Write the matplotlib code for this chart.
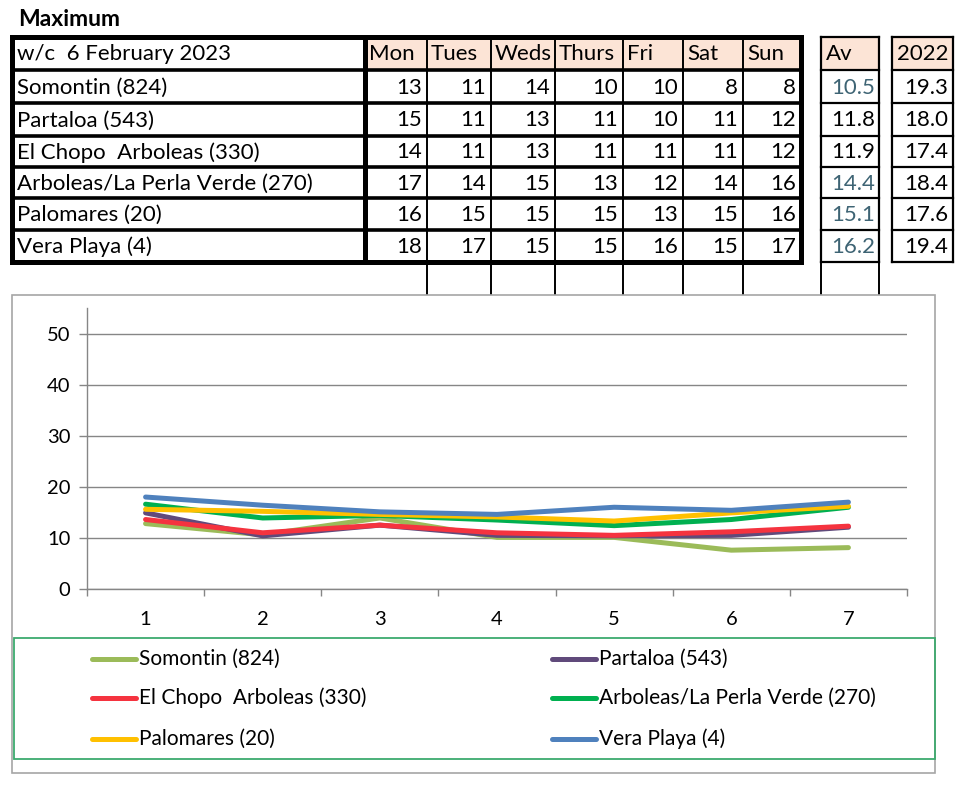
import matplotlib; matplotlib.use("agg")
import matplotlib.pyplot as plt
from matplotlib.patches import Rectangle
from matplotlib.lines import Line2D

# table data
title = "Maximum"
week = "w/c  6 February 2023"
days = ["Mon", "Tues", "Weds", "Thurs", "Fri", "Sat", "Sun"]
places = ["Somontin (824)", "Partaloa (543)", "El Chopo  Arboleas (330)",
          "Arboleas/La Perla Verde (270)", "Palomares (20)", "Vera Playa (4)"]
daily = [[13, 11, 14, 10, 10, 8, 8],
         [15, 11, 13, 11, 10, 11, 12],
         [14, 11, 13, 11, 11, 11, 12],
         [17, 14, 15, 13, 12, 14, 16],
         [16, 15, 15, 15, 13, 15, 16],
         [18, 17, 15, 15, 16, 15, 17]]
av = [10.5, 11.8, 11.9, 14.4, 15.1, 16.2]
av_teal = [True, False, False, True, True, True]
y2022 = [19.3, 18.0, 17.4, 18.4, 17.6, 19.4]

# chart data
xs = [1, 2, 3, 4, 5, 6, 7]
series = {
    "Somontin (824)": [12.8, 10.6, 13.9, 10.1, 10.1, 7.6, 8.1],
    "Partaloa (543)": [14.9, 10.4, 12.5, 10.5, 10.4, 10.5, 12.1],
    "El Chopo  Arboleas (330)": [13.6, 11.0, 12.5, 11.0, 10.5, 11.2, 12.3],
    "Arboleas/La Perla Verde (270)": [16.6, 13.9, 14.4, 13.5, 12.4, 13.6, 16.0],
    "Palomares (20)": [15.6, 15.2, 14.6, 14.1, 13.3, 14.9, 16.2],
    "Vera Playa (4)": [18.0, 16.4, 15.1, 14.6, 16.0, 15.4, 17.0],
}
colors = ["#9BBB59", "#604A7B", "#F5333F", "#00B050", "#FFC000", "#4F81BD"]

FONT = ["Lato", "DejaVu Sans"]
PEACH = "#FCE4D6"
TEAL = "#3E6474"

fig = plt.figure(figsize=(9.63, 8), dpi=100)
ov = fig.add_axes([0, 0, 1, 1])
ov.set_xlim(0, 963); ov.set_ylim(800, 0); ov.axis("off")

# ---- table ----
rows_y = [37, 70, 103, 136, 167, 198, 230, 262]
cols_x = [12, 365, 427, 491, 555, 623, 683, 743, 801]
av_x = (821, 879)
yr_x = (892, 953)
fs = 16

ov.text(18, 20, title, fontsize=16.5, weight="bold", family=FONT, va="center")

# header fills
for i in range(1, 8):
    ov.add_patch(Rectangle((cols_x[i], rows_y[0]), cols_x[i+1]-cols_x[i], rows_y[1]-rows_y[0],
                           facecolor=PEACH, edgecolor="none", zorder=1))
for x0, x1 in (av_x, yr_x):
    ov.add_patch(Rectangle((x0, rows_y[0]), x1-x0, rows_y[1]-rows_y[0],
                           facecolor=PEACH, edgecolor="none", zorder=1))

# main table lines
for k, y in enumerate(rows_y):
    lw = 3.6 if k in (0, len(rows_y)-1) else 2.6
    ov.plot([cols_x[0], cols_x[-1]], [y, y], color="black", lw=lw, zorder=3, solid_capstyle="projecting")
for k, x in enumerate(cols_x):
    lw = 3.6 if k in (0, 1, len(cols_x)-1) else 1.4
    ov.plot([x, x], [rows_y[0], rows_y[-1]], color="black", lw=lw, zorder=3, solid_capstyle="projecting")
for x in cols_x[2:-1]:
    ov.plot([x, x], [rows_y[-1], 295], color="black", lw=1.4, zorder=2)
for x0, x1 in (av_x, yr_x):
    for y in rows_y:
        ov.plot([x0, x1], [y, y], color="black", lw=1.6, zorder=3, solid_capstyle="projecting")
    for x in (x0, x1):
        ov.plot([x, x], [rows_y[0], rows_y[-1]], color="black", lw=1.6, zorder=3)
for x in av_x:
    ov.plot([x, x], [rows_y[-1], 295], color="black", lw=1.4, zorder=2)

# table text
def cy(r):
    return (rows_y[r] + rows_y[r+1]) / 2 + 1

ov.text(17, cy(0), week, fontsize=fs, family=FONT, va="center")
for i, d in enumerate(days):
    ov.text(cols_x[i+1] + 4, cy(0), d, fontsize=fs, family=FONT, va="center")
ov.text(av_x[0] + 5, cy(0), "Av", fontsize=fs, family=FONT, va="center")
ov.text(yr_x[1] - 5, cy(0), "2022", fontsize=fs, family=FONT, va="center", ha="right")
for r, name in enumerate(places):
    ov.text(17, cy(r+1), name, fontsize=fs, family=FONT, va="center")
    for i, v in enumerate(daily[r]):
        ov.text(cols_x[i+2] - 5, cy(r+1), str(v), fontsize=fs, family=FONT, va="center", ha="right")
    ov.text(av_x[1] - 4, cy(r+1), f"{av[r]:.1f}", fontsize=fs, family=FONT, va="center", ha="right",
            color=TEAL if av_teal[r] else "black")
    ov.text(yr_x[1] - 5, cy(r+1), f"{y2022[r]:.1f}", fontsize=fs, family=FONT, va="center", ha="right")

# chart frame and legend frame
ov.add_patch(Rectangle((12, 295), 923, 478, facecolor="white", edgecolor="#A6A6A6", lw=1.2, zorder=4))
ov.add_patch(Rectangle((14, 638), 921, 121, facecolor="none", edgecolor="#3DAA6E", lw=1.3, zorder=5))

# ---- line chart ----
ax = fig.add_axes([87/963, 1-589/800, (907-87)/963, (589-308)/800], zorder=5)
ax.patch.set_alpha(0)
for (name, vals), c in zip(series.items(), colors):
    ax.plot(xs, vals, color=c, lw=3.6, solid_capstyle="round", label=name)
ax.set_xlim(0.5, 7.5)
ax.set_ylim(0, 55)
ax.set_yticks([0, 10, 20, 30, 40, 50])
ax.set_xticks([x + 0.5 for x in [0] + xs])
ax.set_xticklabels([])
ax.set_xticks(xs, minor=True)
ax.set_xticklabels([str(x) for x in xs], minor=True)
ax.tick_params(axis="x", which="minor", length=0, pad=16, labelsize=14.5)
ax.tick_params(axis="x", which="major", length=5, color="#868686", width=1)
ax.tick_params(axis="y", length=6, color="#868686", width=1, labelsize=14.5, pad=6)
for lab in ax.get_xticklabels(minor=True) + ax.get_yticklabels():
    lab.set_family(FONT)
ax.grid(axis="y", color="#868686", lw=1)
ax.set_axisbelow(True)
for s in ("top", "right"):
    ax.spines[s].set_visible(False)
for s in ("left", "bottom"):
    ax.spines[s].set_color("#868686")
    ax.spines[s].set_linewidth(1)

# legend, drawn by hand in two columns
leg_rows = [659, 698, 739]
leg_cols = [92, 552]
for k, ((name, _), c) in enumerate(zip(series.items(), colors)):
    x0 = leg_cols[k % 2]; y0 = leg_rows[k // 2]
    ov.add_line(Line2D([x0, x0 + 44], [y0, y0], color=c, lw=3.6, solid_capstyle="round", zorder=6))
    ov.text(x0 + 47, y0, name, fontsize=15, family=FONT, va="center", zorder=6)

fig.savefig("out.png", dpi=100)
